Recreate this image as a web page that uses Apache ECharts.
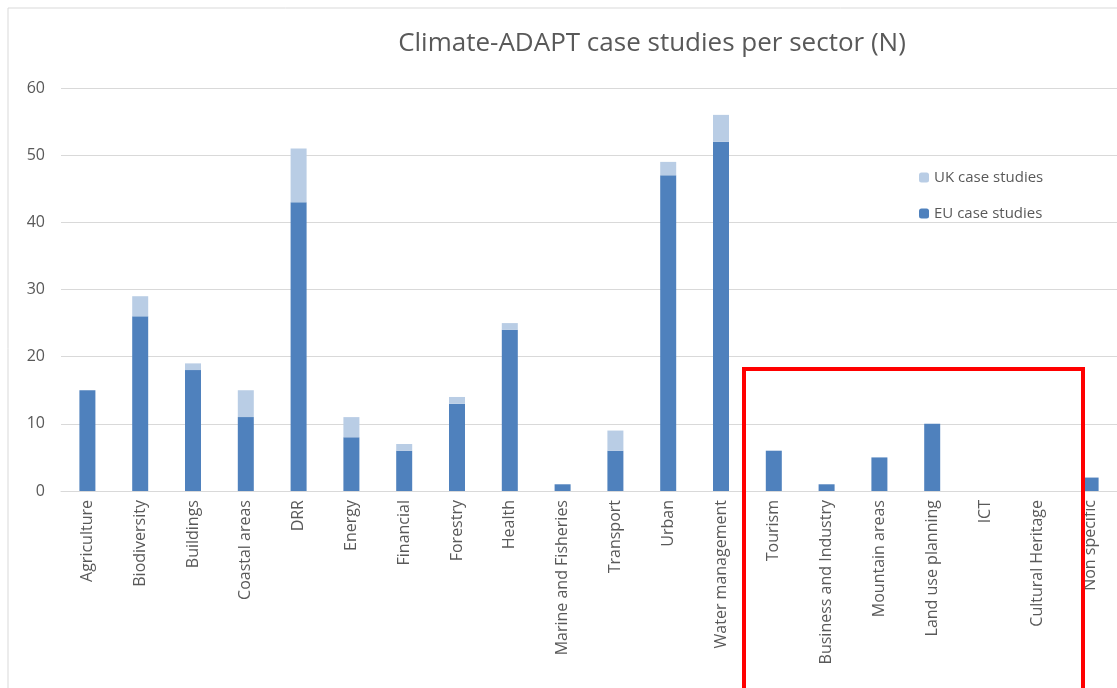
<!DOCTYPE html>
<html>
<head>
<meta charset="utf-8">
<script src="https://cdn.jsdelivr.net/npm/echarts@6/dist/echarts.min.js"></script>
<style>
  html, body { margin: 0; padding: 0; background: #fff; }
  #chart { width: 1117px; height: 688px; }
</style>
</head>
<body>
<div id="chart"></div>
<script>
// sectors and counts
var sectors = ["Agriculture", "Biodiversity", "Buildings", "Coastal areas", "DRR", "Energy",
  "Financial", "Forestry", "Health", "Marine and Fisheries", "Transport", "Urban",
  "Water management", "Tourism", "Business and Industry", "Mountain areas",
  "Land use planning", "ICT", "Cultural Heritage", "Non specific"];
var euCases = [15, 26, 18, 11, 43, 8, 6, 13, 24, 1, 6, 47, 52, 6, 1, 5, 10, 0, 0, 2];
var ukCases = [0, 3, 1, 4, 8, 3, 1, 1, 1, 0, 3, 2, 4, 0, 0, 0, 0, 0, 0, 0];
var yTicks = [0, 10, 20, 30, 40, 50, 60];

var myChart = echarts.init(document.getElementById("chart"));
var textColor = "#595959";
var font = "Open Sans";

myChart.setOption({
  animation: false,
  title: {
    text: "Climate-ADAPT case studies per sector (N)",
    left: 647,
    top: 26,
    textAlign: "center",
    textStyle: { color: textColor, fontSize: 26, fontWeight: "normal", fontFamily: font }
  },
  legend: {
    orient: "vertical",
    left: 914,
    top: 165,
    itemWidth: 10,
    itemHeight: 10,
    itemGap: 21,
    data: ["UK case studies", "EU case studies"],
    textStyle: { color: textColor, fontSize: 15, fontFamily: font }
  },
  grid: { left: 61, width: 1062, top: 88, height: 403, containLabel: false },
  xAxis: {
    type: "category",
    data: sectors,
    axisLine: { lineStyle: { color: "#d9d9d9" } },
    axisTick: { show: false },
    axisLabel: {
      rotate: 90,
      interval: 0,
      margin: 9,
      padding: [6, 0, 0, 0],
      color: textColor,
      fontSize: 16,
      fontFamily: font
    }
  },
  yAxis: {
    type: "value",
    min: yTicks[0],
    max: yTicks[yTicks.length - 1],
    interval: 10,
    axisLine: { show: false },
    axisTick: { show: false },
    splitLine: { lineStyle: { color: "#d9d9d9" } },
    axisLabel: { color: textColor, fontSize: 16, fontFamily: font, margin: 16 }
  },
  series: [
    {
      name: "EU case studies",
      type: "bar",
      stack: "total",
      barWidth: 16,
      itemStyle: { color: "#4f81bd" },
      data: euCases
    },
    {
      name: "UK case studies",
      type: "bar",
      stack: "total",
      barWidth: 16,
      itemStyle: { color: "#b9cde5" },
      data: ukCases
    }
  ],
  graphic: [
    {
      type: "rect",
      shape: { x: 8, y: 8, width: 1120, height: 700 },
      style: { fill: "none", stroke: "#d9d9d9", lineWidth: 1 },
      silent: true
    },
    {
      type: "rect",
      shape: { x: 744, y: 369, width: 339, height: 340 },
      style: { fill: "none", stroke: "#ff0000", lineWidth: 4 },
      silent: true,
      z: 100
    }
  ]
});
</script>
</body>
</html>
